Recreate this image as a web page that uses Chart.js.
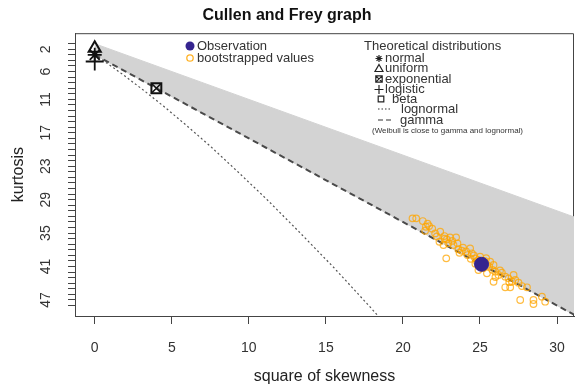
<!DOCTYPE html>
<html>
<head>
<meta charset="utf-8">
<script src="https://cdn.jsdelivr.net/npm/chart.js@4.4.1/dist/chart.umd.min.js"></script>
<style>
  html, body { margin: 0; padding: 0; background: #fff; }
</style>
</head>
<body>
<canvas id="cf" width="576" height="388"></canvas>
<script>
// observed point (square of skewness, kurtosis)
const obsSkew2 = [25.1];
const obsKurt = [40.6];

// bootstrapped values
const bootSkew2 = [20.62, 20.86, 21.29, 21.49, 21.70, 21.44, 22.09, 22.42, 22.69, 22.85,
  23.06, 23.45, 22.37, 22.63, 22.95, 23.28, 23.54, 23.82, 23.67, 24.36,
  24.19, 24.47, 22.81, 24.69, 24.80, 25.01, 25.45, 25.66, 25.88, 24.90,
  25.45, 25.99, 26.20, 26.42, 26.64, 25.88, 26.85, 27.18, 27.29, 27.07,
  26.64, 26.96, 27.72, 28.05, 27.61, 28.47, 28.47, 29.02, 29.23, 24.60,
  24.90, 25.30, 25.60, 25.20, 24.40, 23.90, 23.20, 22.20, 21.90, 24.10,
  25.80, 26.30, 24.70, 23.60, 22.70, 21.60, 26.00, 26.90, 27.50, 25.40];
const bootKurt = [32.35, 32.35, 32.84, 33.86, 33.74, 34.58, 35.05, 34.76, 35.53, 36.12,
  35.76, 35.76, 36.55, 37.14, 36.84, 37.14, 36.84, 38.17, 38.53, 37.74,
  38.94, 38.63, 39.53, 39.53, 40.14, 39.24, 40.73, 40.14, 40.73, 41.63,
  42.22, 41.93, 42.52, 42.11, 42.83, 43.73, 43.12, 42.52, 43.42, 43.73,
  44.73, 44.73, 44.50, 44.73, 47.01, 47.01, 47.73, 46.42, 47.31, 39.00,
  39.80, 40.00, 41.00, 41.30, 39.60, 37.60, 36.40, 35.60, 34.20, 38.30,
  41.60, 41.70, 40.50, 37.90, 36.00, 33.30, 42.90, 43.80, 43.90, 39.50];

// theoretical distributions
const normalPt = [0, 3];
const uniformPt = [0, 1.8];
const logisticPt = [0, 4.2];
const exponentialPt = [4, 9];

// lognormal curve (dotted)
const lognormSkew2 = [0, 0.46, 0.93, 1.98, 3.15, 4.46, 5.92, 7.5, 9.25, 11.15, 13.2, 15.45, 17.85, 19.1];
const lognormKurt = [3, 3.84, 4.76, 6.85, 9.32, 12.2, 15.6, 19.4, 23.9, 28.9, 34.6, 41.0, 48.2, 52.1];

// gamma line (dashed)
const gammaSkew2 = [0, 31.1];
const gammaKurt = [3, 49.65];

// beta region outline (grey)
const betaSkew2 = [0, 31.1, 31.1, 0];
const betaKurt = [1, 32.1, 49.65, 3];

const xTicks = [0, 5, 10, 15, 20, 25, 30];
const yTickLabels = [2, 6, 11, 17, 23, 29, 35, 41, 47];
const kurtRange = [1, 48];

const FONT = "'Liberation Sans', Arial, sans-serif";
Chart.defaults.font.family = FONT;

function pts(xs, ys) {
    return xs.map((x, i) => ({ x: x, y: ys[i] }));
}

let yMinor = [];
for (let k = kurtRange[0]; k <= kurtRange[1]; k++) yMinor.push({ value: k });

// symbols for the legend
function sym(ctx, type, x, y, r) {
    ctx.save();
    ctx.strokeStyle = '#222';
    ctx.lineWidth = 1.2;
    ctx.beginPath();
    if (type === 'star') {
        ctx.moveTo(x - r, y); ctx.lineTo(x + r, y);
        ctx.moveTo(x, y - r); ctx.lineTo(x, y + r);
        ctx.moveTo(x - r * 0.7, y - r * 0.7); ctx.lineTo(x + r * 0.7, y + r * 0.7);
        ctx.moveTo(x - r * 0.7, y + r * 0.7); ctx.lineTo(x + r * 0.7, y - r * 0.7);
    } else if (type === 'triangle') {
        ctx.moveTo(x, y - r); ctx.lineTo(x + r, y + r * 0.75); ctx.lineTo(x - r, y + r * 0.75); ctx.closePath();
    } else if (type === 'boxx') {
        ctx.rect(x - r, y - r, 2 * r, 2 * r);
        ctx.moveTo(x - r, y - r); ctx.lineTo(x + r, y + r);
        ctx.moveTo(x - r, y + r); ctx.lineTo(x + r, y - r);
    } else if (type === 'plus') {
        ctx.moveTo(x - r, y); ctx.lineTo(x + r, y);
        ctx.moveTo(x, y - r); ctx.lineTo(x, y + r);
    } else if (type === 'square') {
        ctx.rect(x - r, y - r, 2 * r, 2 * r);
    }
    ctx.stroke();
    ctx.restore();
}

const boxPlugin = {
    id: 'box',
    beforeDatasetsDraw(chart) {
        const a = chart.chartArea, ctx = chart.ctx;
        ctx.save();
        ctx.strokeStyle = '#444';
        ctx.lineWidth = 1;
        ctx.beginPath();
        ctx.moveTo(a.left, a.top + 0.5);
        ctx.lineTo(a.right - 0.5, a.top + 0.5);
        ctx.lineTo(a.right - 0.5, a.bottom);
        ctx.stroke();
        ctx.restore();
    }
};

const textPlugin = {
    id: 'texts',
    afterDraw(chart) {
        const ctx = chart.ctx;
        const ys = chart.scales.y;
        ctx.save();
        ctx.fillStyle = '#333';
        ctx.font = '14px ' + FONT;
        ctx.textAlign = 'center';
        ctx.textBaseline = 'middle';
        yTickLabels.forEach(v => {
            ctx.save();
            ctx.translate(46, ys.getPixelForValue(v));
            ctx.rotate(-Math.PI / 2);
            ctx.fillText(String(v), 0, 0);
            ctx.restore();
        });

        // left legend
        ctx.font = '13px ' + FONT;
        ctx.textAlign = 'left';
        ctx.fillStyle = '#35248f';
        ctx.beginPath(); ctx.arc(190, 46, 4.5, 0, Math.PI * 2); ctx.fill();
        ctx.strokeStyle = 'rgba(255,165,0,0.85)';
        ctx.lineWidth = 1.3;
        ctx.beginPath(); ctx.arc(190, 58, 3.2, 0, Math.PI * 2); ctx.stroke();
        ctx.fillStyle = '#333';
        ctx.fillText('Observation', 197, 46);
        ctx.fillText('bootstrapped values', 197, 58);

        // right legend
        ctx.fillText('Theoretical distributions', 364, 46);
        sym(ctx, 'star', 379, 58.5, 3.5);
        ctx.fillText('normal', 385, 58.5);
        sym(ctx, 'triangle', 379, 68.5, 4);
        ctx.fillText('uniform', 385, 68.5);
        sym(ctx, 'boxx', 379, 79, 3.2);
        ctx.fillText('exponential', 385, 79);
        sym(ctx, 'plus', 379, 89.5, 4.5);
        ctx.fillText('logistic', 385, 89.5);
        sym(ctx, 'square', 381, 99, 2.8);
        ctx.fillText('beta', 392, 99);
        ctx.save();
        ctx.strokeStyle = '#333'; ctx.lineWidth = 1.2;
        ctx.setLineDash([1.5, 2]);
        ctx.beginPath(); ctx.moveTo(378, 109); ctx.lineTo(392, 109); ctx.stroke();
        ctx.setLineDash([5, 3]);
        ctx.beginPath(); ctx.moveTo(378, 120); ctx.lineTo(392, 120); ctx.stroke();
        ctx.restore();
        ctx.fillText('lognormal', 401, 109);
        ctx.fillText('gamma', 400, 120);
        ctx.font = '8px ' + FONT;
        ctx.fillText('(Weibull is close to gamma and lognormal)', 372, 131);
        ctx.restore();
    }
};

const ctx = document.getElementById('cf').getContext('2d');
new Chart(ctx, {
    type: 'scatter',
    data: {
        datasets: [{
            label: 'Observation',
            data: pts(obsSkew2, obsKurt),
            pointRadius: 7,
            pointBackgroundColor: '#35248f',
            pointBorderColor: '#35248f',
            order: 0
        }, {
            label: 'bootstrapped values',
            data: pts(bootSkew2, bootKurt),
            pointRadius: 3.3,
            pointBorderWidth: 1.2,
            pointBorderColor: 'rgba(255,165,0,0.75)',
            pointBackgroundColor: 'rgba(0,0,0,0)',
            order: 1
        }, {
            label: 'normal',
            data: [{ x: normalPt[0], y: normalPt[1] }],
            pointStyle: 'star',
            pointRadius: 7,
            pointBorderWidth: 1.8,
            pointBorderColor: '#111',
            order: 2
        }, {
            label: 'uniform',
            data: [{ x: uniformPt[0], y: uniformPt[1] }],
            pointStyle: 'triangle',
            pointRadius: 7,
            pointBorderWidth: 2,
            pointBorderColor: '#111',
            pointBackgroundColor: 'rgba(0,0,0,0)',
            order: 2
        }, {
            label: 'logistic',
            data: [{ x: logisticPt[0], y: logisticPt[1] }],
            pointStyle: 'cross',
            pointRadius: 9,
            pointBorderWidth: 1.8,
            pointBorderColor: '#111',
            order: 2
        }, {
            label: 'exponential',
            data: [{ x: exponentialPt[0], y: exponentialPt[1] }],
            pointStyle: 'rect',
            pointRadius: 7,
            pointBorderWidth: 2,
            pointBorderColor: '#111',
            pointBackgroundColor: 'rgba(0,0,0,0)',
            order: 2
        }, {
            label: 'exponential x',
            data: [{ x: exponentialPt[0], y: exponentialPt[1] }],
            pointStyle: 'crossRot',
            pointRadius: 6,
            pointBorderWidth: 1.6,
            pointBorderColor: '#111',
            order: 2
        }, {
            label: 'gamma',
            data: pts(gammaSkew2, gammaKurt),
            showLine: true,
            pointRadius: 0,
            borderColor: '#4a4a4a',
            borderWidth: 2,
            borderDash: [6, 4],
            order: 6
        }, {
            label: 'lognormal',
            data: pts(lognormSkew2, lognormKurt),
            showLine: true,
            pointRadius: 0,
            borderColor: '#555',
            borderWidth: 1.2,
            borderDash: [2, 2.5],
            order: 7
        }, {
            label: 'beta',
            data: pts(betaSkew2, betaKurt),
            showLine: true,
            pointRadius: 0,
            borderColor: '#d3d3d3',
            backgroundColor: '#d3d3d3',
            borderWidth: 1,
            fill: 'shape',
            order: 8
        }]
    },
    options: {
        responsive: false,
        animation: false,
        devicePixelRatio: 1,
        layout: { autoPadding: false, padding: { top: 0, right: 2, left: 0, bottom: 0 } },
        plugins: {
            legend: { display: false },
            tooltip: { enabled: false },
            title: {
                display: true,
                text: 'Cullen and Frey graph',
                color: '#111',
                font: { size: 16, weight: 'bold' },
                padding: { top: 6, bottom: 8 }
            }
        },
        scales: {
            x: {
                type: 'linear',
                min: -1.28,
                max: 31.1,
                afterBuildTicks: s => { s.ticks = xTicks.map(v => ({ value: v })); },
                afterFit: s => { s.height = 72; s.paddingLeft = 0; s.paddingRight = 0; },
                grid: { drawOnChartArea: false, tickLength: 8, color: '#444' },
                border: { color: '#444', width: 1 },
                ticks: { color: '#333', font: { size: 14 }, padding: 16 },
                title: { display: true, text: 'square of skewness', color: '#222', font: { size: 16 }, padding: { top: 0, bottom: 1.5 } }
            },
            y: {
                type: 'linear',
                reverse: true,
                min: -0.88,
                max: 49.88,
                afterBuildTicks: s => { s.ticks = yMinor.slice(); },
                afterFit: s => { s.width = 75; s.paddingTop = 0; s.paddingBottom = 0; },
                grid: { drawOnChartArea: false, tickLength: 7, color: '#444' },
                border: { color: '#444', width: 1 },
                ticks: { display: false },
                title: { display: true, text: 'kurtosis', color: '#222', font: { size: 16 }, padding: { top: 8.5 } }
            }
        }
    },
    plugins: [boxPlugin, textPlugin]
});
</script>
</body>
</html>
